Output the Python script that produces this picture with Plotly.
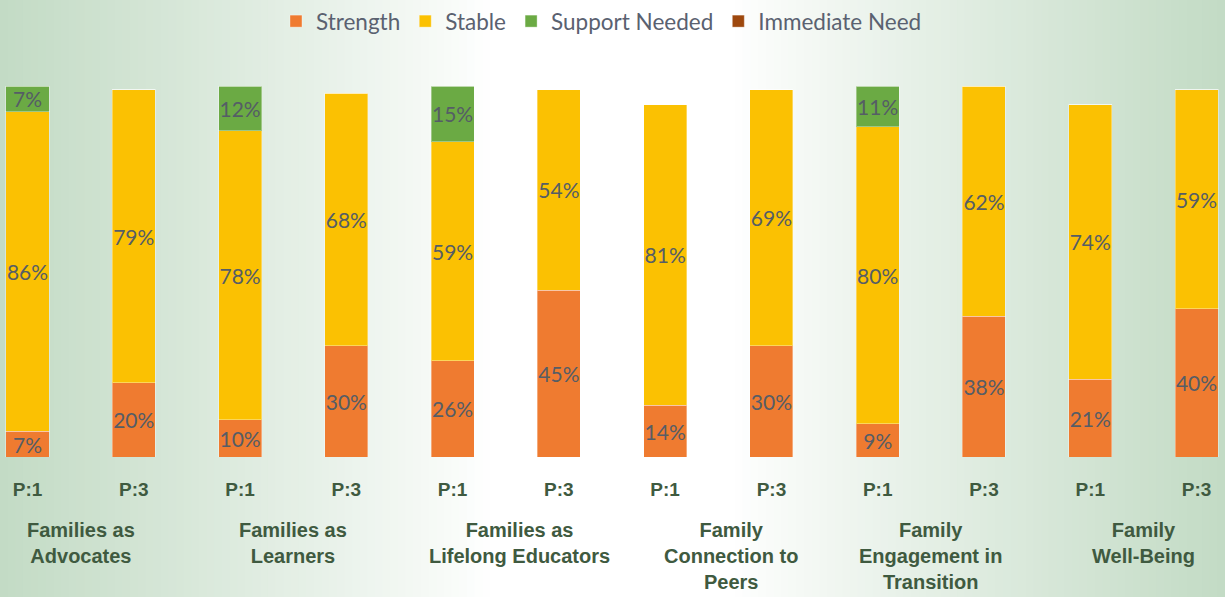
import plotly.graph_objects as go

# chart data
groups = ["Families as<br>Advocates", "Families as<br>Learners", "Families as<br>Lifelong Educators",
          "Family<br>Connection to<br>Peers", "Family<br>Engagement in<br>Transition", "Family<br>Well-Being"]
periods = ["P:1", "P:3"]

strength = [7, 20, 10, 30, 26, 45, 14, 30, 9, 38, 21, 40]
stable = [86, 79, 78, 68, 59, 54, 81, 69, 80, 62, 74, 59]
support_needed = [7, 0, 12, 0, 15, 0, 0, 0, 11, 0, 0, 0]
immediate_need = [0, 0, 0, 0, 0, 0, 0, 0, 0, 0, 0, 0]

series = [
    ("Strength", strength, "#EF7B30"),
    ("Stable", stable, "#FBC102"),
    ("Support Needed", support_needed, "#6BAA44"),
    ("Immediate Need", immediate_need, "#9E480E"),
]

x = list(range(len(strength)))
tick_text = [periods[i % 2] for i in x]

fig = go.Figure()
for name, vals, color in series:
    fig.add_trace(go.Bar(
        x=x, y=vals, name=name,
        width=0.405,
        marker=dict(color=color, line=dict(color="rgba(255,255,255,0.35)", width=1)),
        text=[f"{v}%" if v > 0 else "" for v in vals],
        textposition="inside",
        insidetextanchor="middle",
        textangle=0,
        constraintext="none",
        textfont=dict(family="Lato", size=21, color="#555D66"),
        hoverinfo="skip",
    ))

# background: green at the sides fading to white in the middle
W = 1225
n_strips = 160
green = (195, 219, 197)
for k in range(n_strips):
    x0 = k / n_strips
    x1 = (k + 1) / n_strips
    px = (x0 + x1) / 2 * W
    d = abs(px - 612)
    f = min(max((d - 120) / 490, 0), 1) ** 0.9
    c = tuple(round(255 - f * (255 - g)) for g in green)
    fig.add_shape(type="rect", xref="paper", yref="paper", x0=x0, x1=x1 + 0.001, y0=-1, y1=2,
                  fillcolor=f"rgb{c}", line_width=0, layer="below")

# group labels under each pair of bars
group_label_x = [0.5, 2.5, 4.625, 6.62, 8.5, 10.5]
for gx, label in zip(group_label_x, groups):
    fig.add_annotation(x=gx, xref="x", y=-0.163, yref="paper", yanchor="top",
                       text=label, showarrow=False, align="center",
                       font=dict(family="Liberation Sans", size=20, color="#3F5A40", weight="bold"))

fig.update_layout(
    width=1225, height=597,
    barmode="stack",
    margin=dict(l=0, r=0, t=85, b=140),
    paper_bgcolor="white",
    plot_bgcolor="rgba(0,0,0,0)",
    legend=dict(orientation="h", x=0.491, xanchor="center", y=1.175, yanchor="middle",
                font=dict(family="Lato", size=22.5, color="#5A6170"), traceorder="normal",
                bgcolor="rgba(0,0,0,0)"),
    xaxis=dict(range=[-0.2588, 11.268], tickvals=x, ticktext=tick_text,
               ticks="outside", ticklen=15, tickcolor="rgba(0,0,0,0)",
               showgrid=False, zeroline=False, showline=False,
               tickfont=dict(family="Liberation Sans", size=19, color="#3F5A40", weight="bold")),
    yaxis=dict(range=[0, 100], visible=False),
)

fig.write_html("out.html", config={"displayModeBar": False},
               post_script="document.body.style.margin='0';")
